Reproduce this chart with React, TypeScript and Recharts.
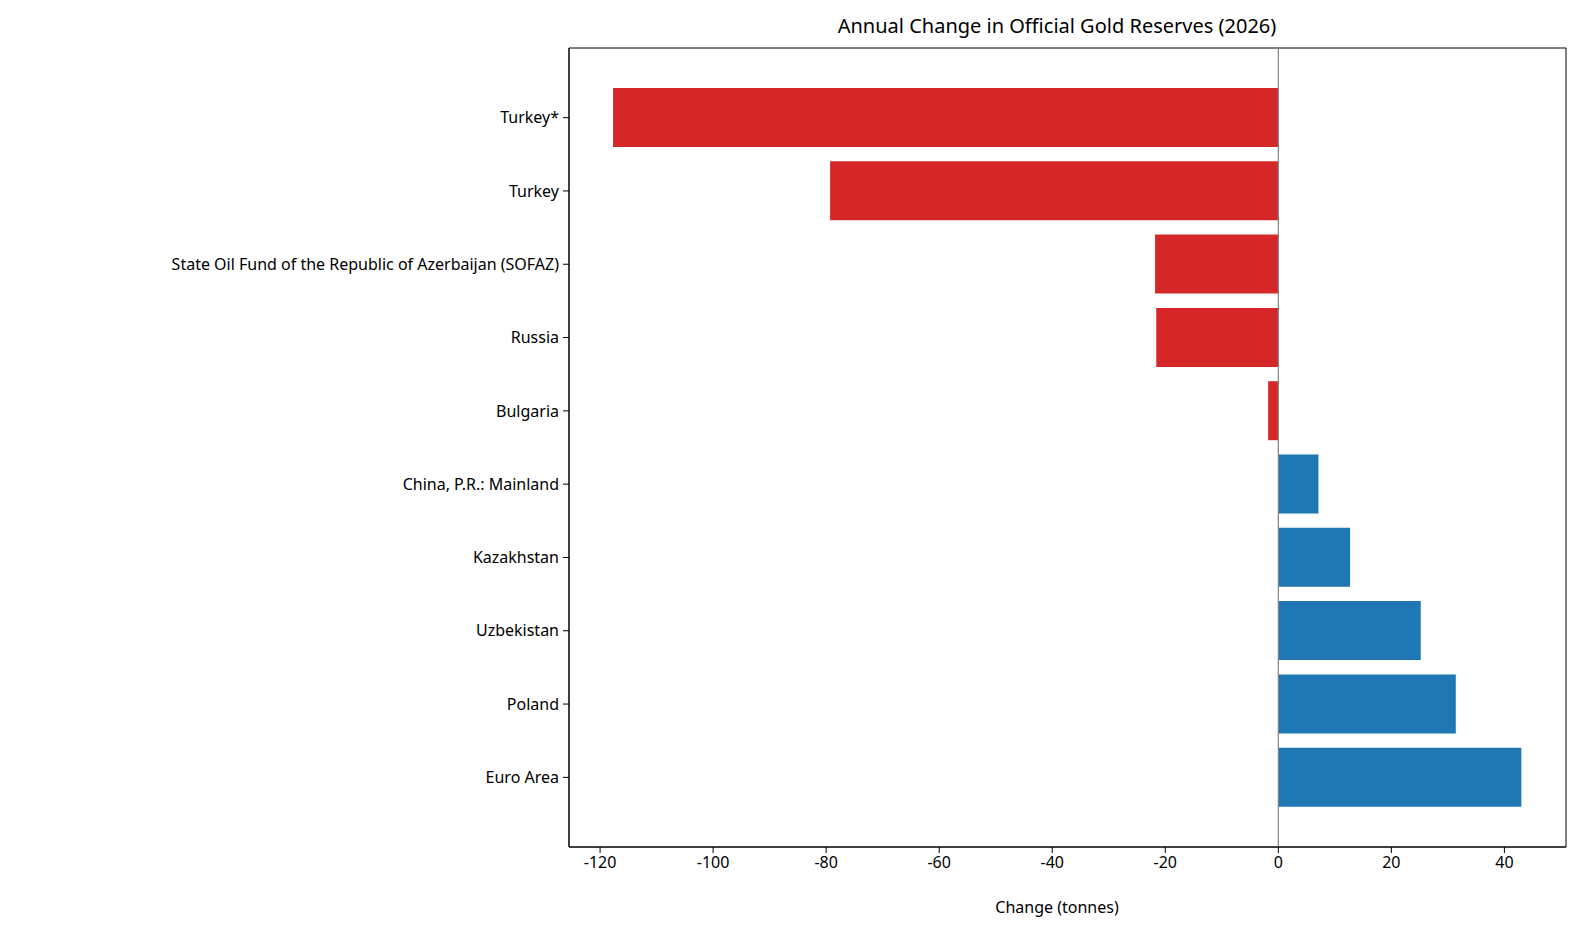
import { BarChart, Bar, XAxis, YAxis, Cell, ReferenceLine, ReferenceArea } from 'recharts';

const countries = [
  'Euro Area',
  'Poland',
  'Uzbekistan',
  'Kazakhstan',
  'China, P.R.: Mainland',
  'Bulgaria',
  'Russia',
  'State Oil Fund of the Republic of Azerbaijan (SOFAZ)',
  'Turkey',
  'Turkey*',
];
const changes = [43.0, 31.4, 25.2, 12.7, 7.1, -1.8, -21.6, -21.8, -79.3, -117.7];
const xTicks = [-120, -100, -80, -60, -40, -20, 0, 20, 40];

const BLUE = '#1f77b4';
const RED = '#d62728';
const FONT = "'Noto Sans', 'DejaVu Sans', sans-serif";
const N = countries.length;

// row position counts up from the bottom so that the first country sits at the top
const data = countries.map((name, i) => ({ name, pos: N - 1 - i, value: changes[i] }));

export default function App() {
  return (
    <div style={{ position: 'absolute', left: 0, top: 0, width: 1583, height: 945, background: '#fff', fontFamily: FONT }}>
      <div style={{ position: 'absolute', left: 563, width: 988, top: 12, textAlign: 'center', fontSize: 20 }}>
        Annual Change in Official Gold Reserves (2026)
      </div>
      <div style={{ position: 'absolute', left: 563, width: 988, top: 896, textAlign: 'center', fontSize: 16 }}>
        Change (tonnes)
      </div>
      <BarChart
        width={1583}
        height={945}
        data={data}
        layout="vertical"
        margin={{ left: 0, right: 17, top: 48, bottom: 0 }}
      >
        <XAxis
          type="number"
          dataKey="value"
          domain={[-125.5, 50.9]}
          ticks={xTicks}
          allowDataOverflow
          stroke="#000"
          tick={{ fill: '#000', fontSize: 16, fontFamily: FONT }}
          tickSize={6}
          tickMargin={4}
          height={98}
        />
        <YAxis
          type="number"
          dataKey="pos"
          domain={[-0.95, N - 1 + 0.95]}
          ticks={countries.map((_, i) => i)}
          tickFormatter={(v) => countries[N - 1 - v] ?? ''}
          allowDataOverflow
          width={569}
          stroke="#000"
          tick={{ fill: '#000', fontSize: 16, fontFamily: FONT }}
          tickSize={6}
          tickMargin={4}
        />
        <ReferenceArea x1={-125.5} x2={50.9} y1={-0.95} y2={N - 1 + 0.95} fill="none" stroke="#000" strokeWidth={1} />
        <Bar dataKey="value" barSize={59} isAnimationActive={false}>
          {data.map((d, i) => (
            <Cell key={`bar-${i}`} fill={d.value >= 0 ? BLUE : RED} />
          ))}
        </Bar>
        <ReferenceLine x={0} stroke="#808080" strokeWidth={1.2} />
      </BarChart>
    </div>
  );
}
